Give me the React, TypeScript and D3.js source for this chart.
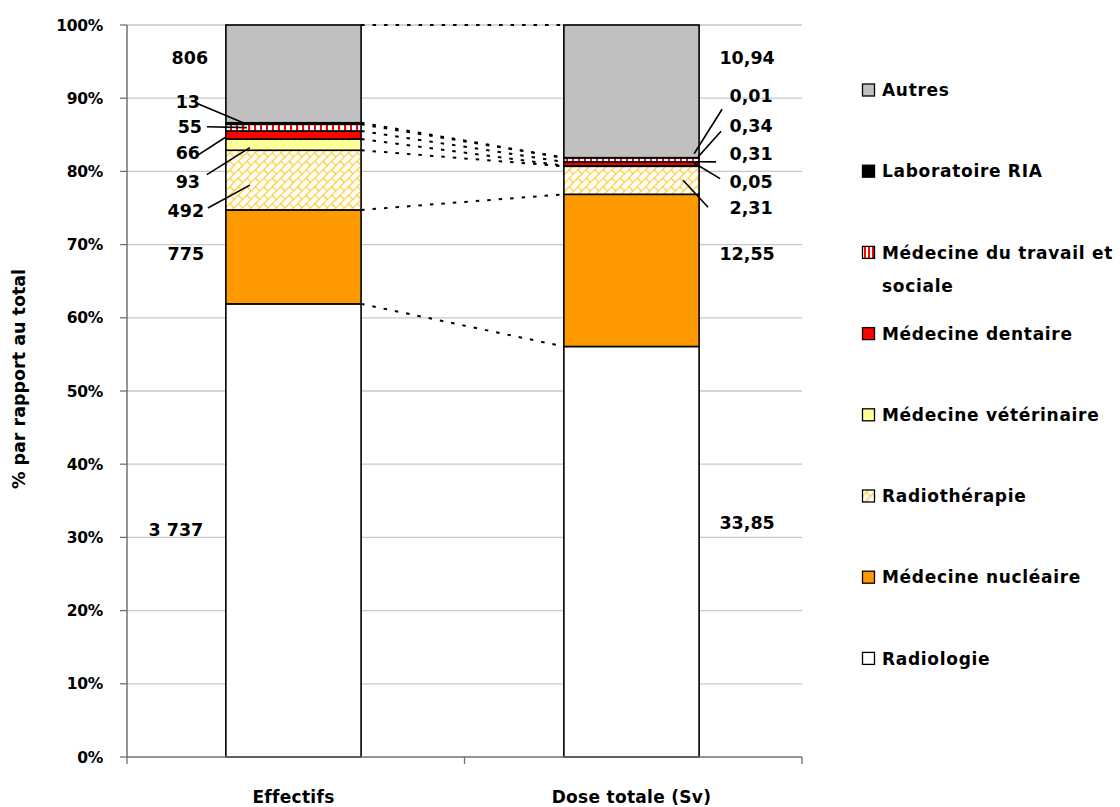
import React from "react";
import * as d3 from "d3";

const categories = ["Effectifs", "Dose totale (Sv)"];
const seriesNames = [
  "Radiologie",
  "Médecine nucléaire",
  "Radiothérapie",
  "Médecine vétérinaire",
  "Médecine dentaire",
  "Médecine du travail et sociale",
  "Laboratoire RIA",
  "Autres",
];
const effectifs = [3737, 775, 492, 93, 66, 55, 13, 806];
const doseTotale = [33.85, 12.55, 2.31, 0.05, 0.31, 0.34, 0.01, 10.94];
const yTicks = [0, 10, 20, 30, 40, 50, 60, 70, 80, 90, 100];
const legendLines = [
  ["Autres"],
  ["Laboratoire RIA"],
  ["Médecine du travail et", "sociale"],
  ["Médecine dentaire"],
  ["Médecine vétérinaire"],
  ["Radiothérapie"],
  ["Médecine nucléaire"],
  ["Radiologie"],
];

// styling per series (same order as seriesNames)
const fills = ["#FFFFFF", "#FF9900", "url(#brick)", "#FFFF99", "#FF0000", "url(#vstripe)", "#000000", "#C0C0C0"];

// label layout (annotation placement, not data)
type LabelLayout = { dx: number; yPct: number; lead?: [number, number, number, number] };
const layoutEffectifs: LabelLayout[] = [
  { dx: -50, yPct: 31.0 },
  { dx: -40, yPct: 68.7 },
  { dx: -40, yPct: 74.6, lead: [22, -3, 24, 5] },
  { dx: -38, yPct: 78.6, lead: [19, -7, 24, 3] },
  { dx: -38, yPct: 82.5, lead: [10, 2, 0, 2] },
  { dx: -36, yPct: 86.1, lead: [17, 0, 21, 0] },
  { dx: -38, yPct: 89.5, lead: [10, 2, 19, 0] },
  { dx: -36, yPct: 95.6 },
];
const layoutDose: LabelLayout[] = [
  { dx: 48, yPct: 32.0 },
  { dx: 48, yPct: 68.7 },
  { dx: 52, yPct: 75.1, lead: [-43, 0, -16, 0] },
  { dx: 52, yPct: 78.6, lead: [-31, -3, -5, -3] },
  { dx: 52, yPct: 82.4, lead: [-35, 8, -1, -2] },
  { dx: 52, yPct: 86.3, lead: [-30, 6, -1, -3] },
  { dx: 52, yPct: 90.4, lead: [-29, 14, -5, -4] },
  { dx: 48, yPct: 95.6 },
];

const fr = d3.formatLocale({ decimal: ",", thousands: " ", grouping: [3], currency: ["", " €"] });
const fmtInt = fr.format(",d");
const fmtDec = fr.format(",.2f");

const FONT = "'DejaVu Sans', sans-serif";

export default function App() {
  const width = 1120;
  const height = 807;
  const plot = { left: 127, right: 802, top: 25, bottom: 757 };

  const x = d3
    .scaleBand<string>()
    .domain(categories)
    .range([plot.left, plot.right])
    .paddingInner(0.6)
    .paddingOuter(0.2985)
    .align(0.49);
  const y = d3.scaleLinear().domain([0, 100]).range([plot.bottom, plot.top]);

  const datasets = [effectifs, doseTotale];
  const formats = [fmtInt, fmtDec];
  const layouts = [layoutEffectifs, layoutDose];

  const cums = datasets.map((vals) => {
    const total = d3.sum(vals);
    const c = [0];
    vals.forEach((v) => c.push(c[c.length - 1] + (v / total) * 100));
    return c;
  });

  const bw = x.bandwidth();

  return (
    <svg width={width} height={height} style={{ position: "absolute", left: 0, top: 0 }} fontFamily={FONT}>
      <defs>
        <pattern id="brick" width={12} height={12} patternUnits="userSpaceOnUse" patternTransform="rotate(-45)">
          <rect width={12} height={12} fill="#FFFFFF" />
          <g stroke="#FFCC33" strokeWidth={1.3} fill="none">
            <line x1={0} y1={0.5} x2={12} y2={0.5} />
            <line x1={0} y1={6.5} x2={12} y2={6.5} />
            <line x1={0.5} y1={0} x2={0.5} y2={6.5} />
            <line x1={6.5} y1={6.5} x2={6.5} y2={12} />
          </g>
        </pattern>
        <pattern id="vstripe" width={6} height={6} patternUnits="userSpaceOnUse">
          <rect width={6} height={6} fill="#FFFFFF" />
          <rect x={2} width={2} height={6} fill="#FF0000" />
        </pattern>
        <pattern id="legstripe" width={4} height={4} patternUnits="userSpaceOnUse" x={863}>
          <rect width={4} height={4} fill="#FFFFFF" />
          <rect x={1} width={2} height={4} fill="#FF0000" />
        </pattern>
      </defs>
      <rect width={width} height={height} fill="#FFFFFF" />

      {/* gridlines */}
      {yTicks.slice(1).map((t) => (
        <line key={"g" + t} x1={plot.left} x2={plot.right} y1={y(t)} y2={y(t)} stroke="#C8C8C8" strokeWidth={1.3} />
      ))}

      {/* bars */}
      {categories.map((cat, ci) => {
        const c = cums[ci];
        return (
          <g key={cat}>
            {seriesNames.map((s, si) => (
              <rect
                key={s}
                x={x(cat)!}
                y={y(c[si + 1])}
                width={bw}
                height={y(c[si]) - y(c[si + 1])}
                fill={fills[si]}
                stroke="#000"
                strokeWidth={1.6}
              />
            ))}
          </g>
        );
      })}

      {/* series lines */}
      {seriesNames.map((s, si) => (
        <line
          key={"sl" + s}
          x1={x(categories[0])! + bw}
          x2={x(categories[1])!}
          y1={y(cums[0][si + 1])}
          y2={y(cums[1][si + 1])}
          stroke="#000"
          strokeWidth={2}
          strokeDasharray="3.5,8"
        />
      ))}

      {/* axes */}
      <line x1={plot.left} x2={plot.left} y1={plot.top} y2={plot.bottom} stroke="#707070" strokeWidth={1.5} />
      {yTicks.map((t) => (
        <g key={"t" + t}>
          <line x1={plot.left - 7} x2={plot.left} y1={y(t)} y2={y(t)} stroke="#707070" strokeWidth={1.3} />
          <text x={103} y={y(t)} dy="0.36em" textAnchor="end" fontSize={15.5} fontWeight="bold" letterSpacing={-0.3}>
            {t + "%"}
          </text>
        </g>
      ))}
      <line x1={plot.left} x2={plot.right} y1={plot.bottom} y2={plot.bottom} stroke="#707070" strokeWidth={1.5} />
      {[plot.left, (plot.left + plot.right) / 2, plot.right].map((tx, i) => (
        <line key={"xt" + i} x1={tx} x2={tx} y1={plot.bottom} y2={plot.bottom + 7} stroke="#707070" strokeWidth={1.3} />
      ))}
      {categories.map((cat) => (
        <text
          key={"cl" + cat}
          x={x(cat)! + bw / 2}
          y={797}
          dy="0.36em"
          textAnchor="middle"
          fontSize={17}
          fontWeight="bold"
          letterSpacing={0.3}
        >
          {cat}
        </text>
      ))}
      <text
        transform={`translate(19,${(plot.top + plot.bottom) / 2 - 12}) rotate(-90)`}
        textAnchor="middle"
        dy="0.36em"
        fontSize={17.5}
        fontWeight="bold"
      >
        % par rapport au total
      </text>

      {/* data labels */}
      {categories.map((cat, ci) => {
        const c = cums[ci];
        const vals = datasets[ci];
        const lay = layouts[ci];
        const left = x(cat)!;
        const right = left + bw;
        return (
          <g key={"dl" + cat}>
            {vals.map((v, si) => {
              const L = lay[si];
              const edge = ci === 0 ? left : right;
              const lx = edge + L.dx;
              const ly = y(L.yPct);
              const mid = y((c[si] + c[si + 1]) / 2);
              return (
                <g key={si}>
                  {L.lead && (
                    <line
                      x1={lx + L.lead[0]}
                      y1={ly + L.lead[1]}
                      x2={edge + L.lead[2]}
                      y2={mid + L.lead[3]}
                      stroke="#000"
                      strokeWidth={1.6}
                    />
                  )}
                  <text x={lx} y={ly} dy="0.36em" textAnchor="middle" fontSize={17.5} fontWeight="bold">
                    {formats[ci](v)}
                  </text>
                </g>
              );
            })}
          </g>
        );
      })}

      {/* legend */}
      {legendLines.map((lines, i) => {
        const si = seriesNames.length - 1 - i;
        const ly = 90 + i * 81.2;
        const fill = si === 5 ? "url(#legstripe)" : fills[si];
        return (
          <g key={"lg" + i}>
            <rect x={862.5} y={ly - 6} width={12} height={12} fill={fill} stroke="#000" strokeWidth={1.3} />
            {lines.map((t, k) => (
              <text
                key={k}
                x={882}
                y={ly + k * 33}
                dy="0.36em"
                fontSize={17}
                fontWeight="bold"
                letterSpacing={0.7}
              >
                {t}
              </text>
            ))}
          </g>
        );
      })}
    </svg>
  );
}
